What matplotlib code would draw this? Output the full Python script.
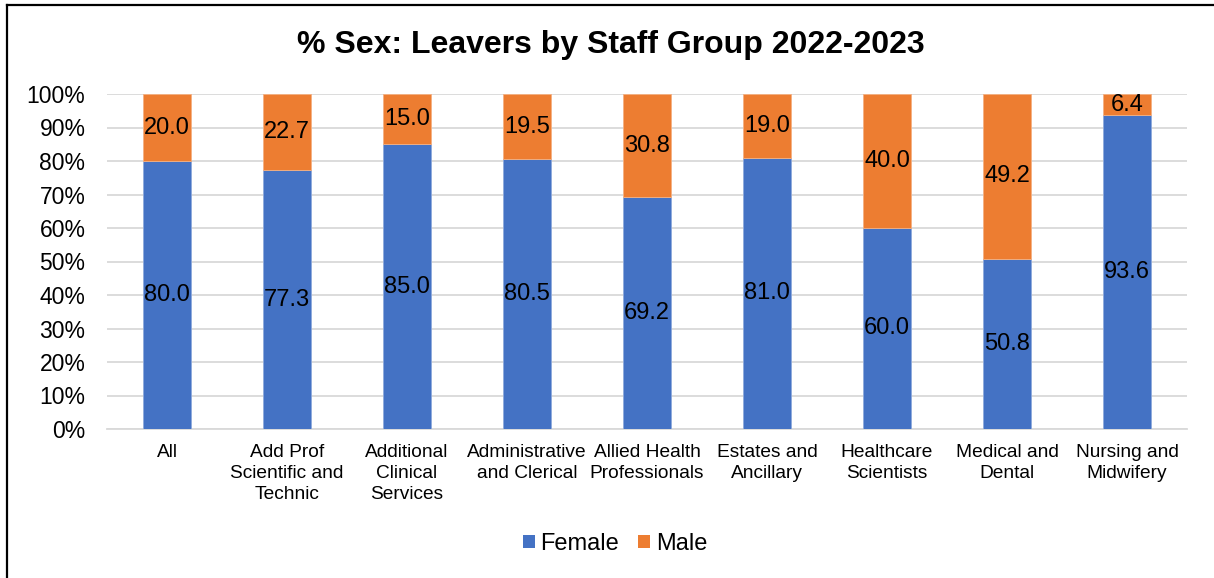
import matplotlib
matplotlib.use("Agg")
import matplotlib.pyplot as plt
from matplotlib.lines import Line2D
from matplotlib.patches import Patch
import numpy as np

plt.rcParams['font.family'] = ['Liberation Sans', 'DejaVu Sans']

categories = ["All", "Add Prof\nScientific and\nTechnic", "Additional\nClinical\nServices",
              "Administrative\nand Clerical", "Allied Health\nProfessionals",
              "Estates and\nAncillary", "Healthcare\nScientists", "Medical and\nDental",
              "Nursing and\nMidwifery"]
female = [80.0, 77.3, 85.0, 80.5, 69.2, 81.0, 60.0, 50.8, 93.6]
male = [20.0, 22.7, 15.0, 19.5, 30.8, 19.0, 40.0, 49.2, 6.4]
yticks = [0, 10, 20, 30, 40, 50, 60, 70, 80, 90, 100]

BLUE = "#4472C4"
ORANGE = "#ED7D31"
GRID = "#D9D9D9"

W, H = 1214, 578
fig = plt.figure(figsize=(W / 100, H / 100), dpi=100)
ax = fig.add_axes([107 / W, 1 - 429 / H, (1187 - 107) / W, (429 - 94) / H])

x = np.arange(len(categories))
width = 0.4
ax.bar(x, female, width, color=BLUE, edgecolor="#8FAADC", linewidth=0.6, zorder=3)
ax.bar(x, male, width, bottom=female, color=ORANGE, edgecolor="#F4B183", linewidth=0.6, zorder=3)

for xi, f, m in zip(x, female, male):
    ax.text(xi, f / 2, f"{f:.1f}", ha="center", va="center", fontsize=17, color="black", zorder=4)
    ax.text(xi, f + m / 2, f"{m:.1f}", ha="center", va="center", fontsize=17, color="black", zorder=4)

ax.set_xlim(-0.5, len(categories) - 0.5)
ax.set_ylim(0, 100)
ax.set_yticks(yticks)
ax.set_yticklabels([f"{v}%" for v in yticks], fontsize=16.5)
ax.set_xticks(x)
ax.set_xticklabels(categories, fontsize=13.8, linespacing=1.3)
ax.tick_params(axis="both", length=0)
ax.tick_params(axis="y", pad=15.5)
ax.tick_params(axis="x", pad=11)
ax.grid(axis="y", color=GRID, linewidth=1.3, zorder=0)
for side in ["top", "right", "left"]:
    ax.spines[side].set_visible(False)
ax.spines["bottom"].set_color(GRID)
ax.spines["bottom"].set_linewidth(1.3)

fig.text(611 / W, 1 - 45 / H, "% Sex: Leavers by Staff Group 2022-2023",
         ha="center", va="center", fontsize=23, fontweight="bold")

handles = [Patch(facecolor=BLUE, label="Female"), Patch(facecolor=ORANGE, label="Male")]
fig.legend(handles=handles, loc="center", bbox_to_anchor=(615 / W, 1 - 544 / H), ncol=2,
           frameon=False, fontsize=17, handlelength=0.5, handleheight=0.5,
           handletextpad=0.25, columnspacing=0.8)

# outer frame on left and top edges
fig.add_artist(Line2D([7 / W, 7 / W], [0, 1 - 5 / H], color="black", linewidth=1.6,
                      transform=fig.transFigure))
fig.add_artist(Line2D([7 / W, 1], [1 - 5 / H, 1 - 5 / H], color="black", linewidth=1.6,
                      transform=fig.transFigure))

fig.savefig("out.png", dpi=100, facecolor="white")
